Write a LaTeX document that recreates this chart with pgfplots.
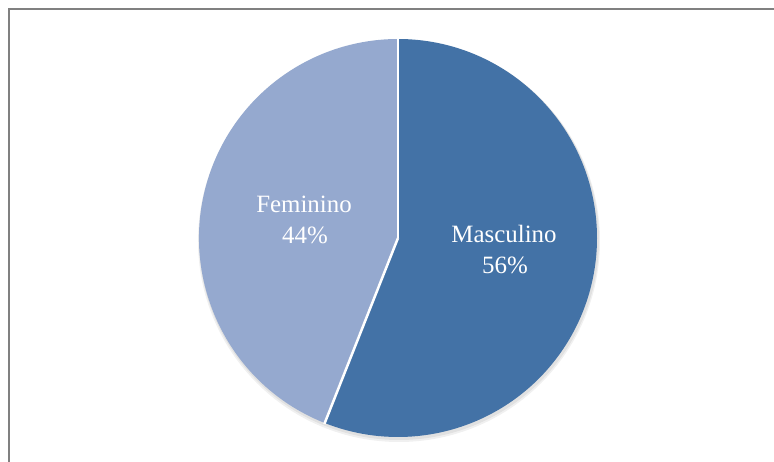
\documentclass[border=0pt]{standalone}
\usepackage{pgfplots}
\usepackage{pgfplotstable}
\pgfplotsset{compat=1.18}
\usepackage{fontspec}
\setmainfont{Liberation Serif}
\definecolor{mblue}{RGB}{67,114,166}
\definecolor{fblue}{RGB}{149,169,207}
\definecolor{frame}{RGB}{128,128,128}
\pgfplotstableread{
label value
Masculino 56
Feminino 44
}\piedata
\pgfplotstablegetelem{0}{value}\of\piedata \edef\vA{\pgfplotsretval}
\pgfplotstablegetelem{1}{value}\of\piedata \edef\vB{\pgfplotsretval}
\pgfmathsetmacro{\angA}{90-\vA*3.6}
\pgfmathsetmacro{\angB}{\angA-\vB*3.6}
\begin{document}
\begin{tikzpicture}
\useasboundingbox (0,0) rectangle (774bp,462bp);
\fill[white] (0,0) rectangle (774bp,462bp);
\begin{axis}[
  at={(0,0)}, anchor=origin,
  x=1bp, y=1bp,
  xmin=0, xmax=774, ymin=0, ymax=462,
  hide axis, clip=false,
]
% frame
\draw[frame, line width=2.5bp] (axis cs:9,0) -- (axis cs:9,453) -- (axis cs:774,453);
% shadow
\fill[black, opacity=0.06] (axis cs:399,221) circle[radius=201bp];
\fill[black, opacity=0.06] (axis cs:399,222) circle[radius=200bp];
% wedges
\fill[mblue] (axis cs:398,224) -- ++(90:199bp) arc[start angle=90, end angle=\angA, radius=199bp] -- cycle;
\fill[fblue] (axis cs:398,224) -- ++(\angA:199bp) arc[start angle=\angA, end angle=\angB, radius=199bp] -- cycle;
\draw[white, line width=2.5bp] (axis cs:398,224) -- ++(90:200bp);
\draw[white, line width=2.5bp] (axis cs:398,224) -- ++(\angA:200bp);
% labels
\node[text=white, font=\fontsize{25}{31}\selectfont, anchor=base] at (axis cs:304,250) {Feminino};
\node[text=white, font=\fontsize{25}{31}\selectfont, anchor=base] at (axis cs:305,219) {\vB\%};
\node[text=white, font=\fontsize{25}{31}\selectfont, anchor=base] at (axis cs:504,220) {Masculino};
\node[text=white, font=\fontsize{25}{31}\selectfont, anchor=base] at (axis cs:505,189) {\vA\%};
\end{axis}
\end{tikzpicture}
\end{document}
